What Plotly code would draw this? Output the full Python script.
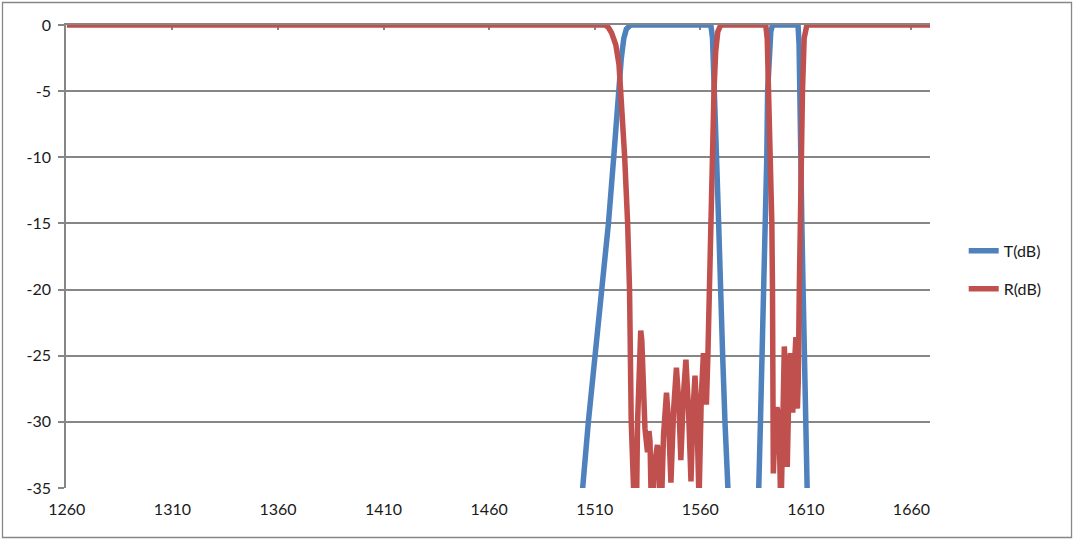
import plotly.graph_objects as go

# ---- data ----
wl_T = [1260, 1500, 1502.5, 1504.3, 1507.0, 1510.2, 1513.8, 1516.5, 1519.0, 1521.1, 1522.6, 1523.8,
        1525.0, 1527.0, 1565.0, 1565.8, 1566.9, 1567.7, 1568.7, 1569.4, 1570.6, 1571.7, 1573.1,
        1574.5, 1580, 1586, 1587.0, 1587.7, 1588.5, 1589.3, 1590.2, 1590.8, 1591.5, 1591.9, 1592.5,
        1593.4, 1594.2, 1606.3, 1606.8, 1607.3, 1607.6, 1608.1, 1608.7, 1609.2, 1609.5, 1610.3,
        1611.5, 1620, 1669]
T_dB = [-60, -60, -42, -35, -30, -25, -20, -15, -10, -5, -2.5, -1,
        -0.3, 0, 0, -1, -5, -10, -15, -20, -25, -30, -35,
        -42, -60, -60, -42, -35, -30, -25, -20, -15, -10, -5, -2,
        -0.5, 0, 0, -1.5, -5, -10, -15, -20, -25, -30, -35,
        -42, -60, -60]

wl_R = [1260, 1515, 1516.5, 1518, 1520, 1521.5, 1522.3, 1523.3, 1524.2, 1525.6, 1526.5, 1527.3,
        1528.0, 1529.5, 1530.3, 1530.8, 1531.3, 1531.8, 1532.3, 1533.0, 1533.8, 1535.0, 1535.7,
        1536.2, 1537.0, 1538.5, 1539.7, 1540.5, 1541.3, 1542.6, 1544.0, 1545.0, 1546.1, 1547.4,
        1548.7, 1549.8, 1550.8, 1552.0, 1553.2, 1554.4, 1555.6, 1556.6, 1557.5, 1558.5, 1559.4,
        1560.5, 1561.5, 1562.2, 1562.9, 1563.6, 1564.2, 1564.6, 1565.8, 1566.5, 1567.3, 1568.3,
        1569.7, 1591.0, 1591.7, 1592.5, 1593.1, 1593.9, 1594.2, 1594.6, 1595.3, 1596.3, 1597.2,
        1598.2, 1599.1, 1599.8, 1600.5, 1601.2, 1601.9, 1602.7, 1603.4, 1603.8, 1604.5, 1605.3,
        1605.7, 1606.0, 1606.4, 1606.9, 1607.3, 1608.0, 1608.4, 1609.2, 1610.5, 1669]
R_dB = [0, 0, -0.2, -0.6, -1.5, -3, -5, -7.5, -10, -15, -20, -30,
        -40, -40, -30, -26, -23.8, -23.1, -23.8, -27, -30.5, -32.3, -30.7,
        -31.5, -38, -33, -31.75, -33, -38, -31, -27.8, -30, -34.6, -29,
        -25.9, -28.5, -32.9, -28, -25.3, -29, -34.5, -29, -26.5, -30, -36,
        -28, -24.8, -26, -28.7, -25, -20.8, -15, -10, -5, -2, -0.5,
        0, 0, -1, -5, -10, -15, -20, -33.9, -31, -28.9, -29.5,
        -37, -30, -24.3, -27, -33.4, -28, -24.8, -26, -29.3, -26, -23.6,
        -25, -29, -27, -20, -15, -10, -5, -1, 0, 0]

x_ticks = [1260, 1310, 1360, 1410, 1460, 1510, 1560, 1610, 1660]
y_ticks = [0, -5, -10, -15, -20, -25, -30, -35]

BLUE = "#4F81BD"
RED = "#C0504D"
GRID = "#868686"
FONT = dict(family="Lato, 'Open Sans', sans-serif", size=16, color="#1a1a1a")
XR = [1259.6, 1668.8]

fig = go.Figure()
fig.add_trace(go.Scatter(x=wl_T, y=T_dB, mode="lines", name="T(dB)",
                         line=dict(color=BLUE, width=5.5), legend="legend"))
fig.add_trace(go.Scatter(x=wl_R, y=R_dB, mode="lines", name="R(dB)",
                         line=dict(color=RED, width=5.5), legend="legend2"))

fig.update_layout(
    width=1076, height=542,
    margin=dict(l=66, r=146, t=25, b=54),
    paper_bgcolor="white", plot_bgcolor="white",
    font=FONT,
    xaxis=dict(range=XR, tickvals=x_ticks, ticktext=[str(v) for v in x_ticks],
               showgrid=False, zeroline=False, showline=False, ticks="",
               tickfont=FONT, ticklabelstandoff=10),
    xaxis2=dict(range=XR, overlaying="x", side="top", anchor="y",
                tickvals=x_ticks, showticklabels=False, showgrid=False, zeroline=False,
                showline=True, linecolor=GRID, linewidth=1.5,
                ticks="inside", ticklen=5, tickcolor=GRID, tickwidth=1.5,
                layer="below traces"),
    yaxis=dict(range=[-35, 0], tickvals=y_ticks, ticktext=[str(v) for v in y_ticks],
               showgrid=True, gridcolor=GRID, gridwidth=1.5, zeroline=False,
               showline=True, linecolor=GRID, linewidth=1.5,
               ticks="outside", ticklen=6, tickcolor=GRID, tickwidth=1.5,
               tickfont=FONT, ticklabelstandoff=4),
    legend=dict(x=1.039, xanchor="left", y=0.512, yanchor="middle",
                bgcolor="rgba(0,0,0,0)", font=FONT),
    legend2=dict(x=1.039, xanchor="left", y=0.430, yanchor="middle",
                 bgcolor="rgba(0,0,0,0)", font=FONT),
    shapes=[dict(type="rect", xref="paper", yref="paper",
                 x0=-0.0735, x1=1.1638, y0=-0.1069, y1=1.0486,
                 line=dict(color="#878787", width=1.3), layer="below")],
    showlegend=True,
)
# dummy link so xaxis2 is rendered
fig.add_trace(go.Scatter(x=[XR[0]], y=[None], xaxis="x2", yaxis="y",
                         showlegend=False, hoverinfo="skip", mode="lines"))

fig.write_html("out.html", config={"displayModeBar": False},
               post_script="document.body.style.margin='0';document.body.style.overflow='hidden';")
